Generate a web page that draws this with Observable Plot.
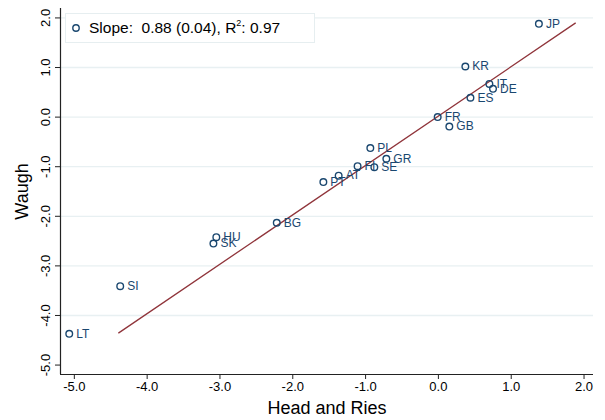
<!DOCTYPE html>
<html>
<head>
<meta charset="utf-8">
<script src="https://cdn.jsdelivr.net/npm/d3@7"></script>
<script src="https://cdn.jsdelivr.net/npm/@observablehq/plot@0.6"></script>
<style>
  body { margin: 0; background: #fff; font-family: "Liberation Sans", Arial, sans-serif; }
  #wrap { position: relative; width: 605px; height: 420px; }
  #legend { position: absolute; left: 65px; top: 13px; width: 250px; height: 30px;
    border: 1px solid #e6eef0; background: #fff; font-size: 15.5px; color: #000;
    display: flex; align-items: center; box-sizing: border-box; }
  #legend svg { margin-left: 5px; margin-right: 8px; }
  #legend sup { font-size: 9px; vertical-align: 7px; line-height: 0; }
</style>
</head>
<body>
<div id="wrap">
  <div id="chart"></div>
  <div id="legend"><svg width="10" height="10"><circle cx="5" cy="5" r="3.2" fill="none" stroke="#1a476f" stroke-width="1.4"/></svg><span>Slope:&nbsp; 0.88 (0.04), R<sup>2</sup>: 0.97</span></div>
</div>
<script>
const countries = ["JP","KR","IT","DE","ES","FR","GB","PL","GR","FI","SE","AT","PT","BG","HU","SK","SI","LT"];
const headRies  = [1.38, 0.37, 0.70, 0.75, 0.44, -0.01, 0.15, -0.935, -0.715, -1.11, -0.88, -1.37, -1.58, -2.22, -3.05, -3.09, -4.37, -5.07];
const waugh     = [1.88, 1.02, 0.67, 0.57, 0.39, 0.00, -0.19, -0.625, -0.84, -0.99, -1.01, -1.18, -1.31, -2.13, -2.42, -2.55, -3.41, -4.37];

const fitHeadRies = [-4.39, 1.88];
const fitWaugh    = [-4.35, 1.895];

const xTicks = [-5, -4, -3, -2, -1, 0, 1, 2];
const yTicks = [-5, -4, -3, -2, -1, 0, 1, 2];
const gridTicks = [-4, -3, -2, -1, 0, 1, 2];

const pts = countries.map((c, i) => ({c, x: headRies[i], y: waugh[i]}));
const fit = fitHeadRies.map((x, i) => ({x, y: fitWaugh[i]}));

const navy = "#1a476f";
const xDom = [-5.19, 2.13], yDom = [-5.19, 2.19];

const chart = Plot.plot({
  width: 605, height: 420,
  marginLeft: 60, marginRight: 12, marginTop: 8, marginBottom: 46,
  style: {fontFamily: "Liberation Sans, Arial, sans-serif", background: "#fff", color: "#000"},
  x: {domain: xDom},
  y: {domain: yDom},
  marks: [
    Plot.ruleY(gridTicks, {stroke: "#e8f0f2", strokeWidth: 1.3}),
    Plot.line(fit, {x: "x", y: "y", stroke: "#90353b", strokeWidth: 1.3}),
    Plot.dot(pts, {x: "x", y: "y", r: 3.3, stroke: navy, strokeWidth: 1.4, fill: "none"}),
    Plot.text(pts, {x: "x", y: "y", text: "c", dx: 7, textAnchor: "start", fill: navy, fontSize: 12}),
    Plot.axisX({ticks: xTicks, tickFormat: d => d.toFixed(1), tickSize: 5, tickPadding: 2, fontSize: 13, label: null, stroke: "#222"}),
    Plot.axisY({ticks: yTicks, tickFormat: () => "", tickSize: 5, label: null, stroke: "#222"}),
    Plot.text(yTicks, {y: d => d, text: d => d.toFixed(1), frameAnchor: "left", rotate: -90, dx: -15, textAnchor: "middle", fontSize: 13, fill: "#000"}),
    Plot.ruleX([xDom[0]], {stroke: "#222", strokeWidth: 1.2}),
    Plot.ruleY([yDom[0]], {stroke: "#222", strokeWidth: 1.2}),
    Plot.text(["Head and Ries"], {frameAnchor: "bottom", dy: 34, lineAnchor: "middle", textAnchor: "middle", fontSize: 18, fill: "#000"}),
    Plot.text(["Waugh"], {frameAnchor: "left", rotate: -90, dx: -38, lineAnchor: "middle", textAnchor: "middle", fontSize: 18, fill: "#000"})
  ]
});
document.getElementById("chart").appendChild(chart);
</script>
</body>
</html>
